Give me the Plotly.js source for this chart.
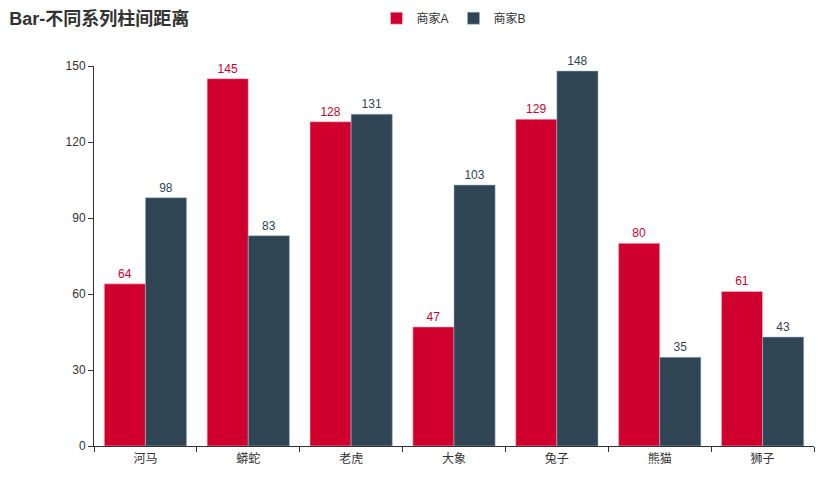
<!DOCTYPE html>
<html>
<head>
<meta charset="utf-8">
<script src="https://cdn.plot.ly/plotly-3.0.1.min.js"></script>
<style>html,body{margin:0;padding:0;background:#fff;}#chart{width:838px;height:492px;}</style>
</head>
<body>
<div id="chart"></div>
<script>
const categories = ['河马', '蟒蛇', '老虎', '大象', '兔子', '熊猫', '狮子'];
const seriesA = [64, 145, 128, 47, 129, 80, 61];
const seriesB = [98, 83, 131, 103, 148, 35, 43];
const nameA = '商家A';
const nameB = '商家B';
const colorA = '#d0002e';
const colorB = '#2f4554';
const FONT = 'Liberation Sans, Arial, Noto Sans CJK SC, sans-serif';

const traces = [
  {type: 'bar', name: nameA, x: categories, y: seriesA, text: seriesA.map(String),
   textposition: 'outside', cliponaxis: false, textfont: {color: colorA, size: 12, family: FONT},
   marker: {color: colorA, line: {color: 'rgba(255,200,210,0.9)', width: 0.6}}, hoverinfo: 'x+y'},
  {type: 'bar', name: nameB, x: categories, y: seriesB, text: seriesB.map(String),
   textposition: 'outside', cliponaxis: false, textfont: {color: colorB, size: 12, family: FONT},
   marker: {color: colorB, line: {color: 'rgba(160,180,200,0.9)', width: 0.6}}, hoverinfo: 'x+y'}
];

const layout = {
  width: 838, height: 492,
  margin: {l: 94, r: 24, t: 66, b: 46, pad: 0, autoexpand: false},
  paper_bgcolor: '#fff', plot_bgcolor: '#fff',
  font: {family: FONT, color: '#333', size: 12},
  title: {text: '<b>Bar-不同系列柱间距离</b>', x: 0.011, xanchor: 'left', y: 0.962, yanchor: 'middle',
          font: {size: 18, color: '#333', family: FONT}},
  showlegend: true,
  legend: {orientation: 'h', x: 0.5, xanchor: 'center', yref: 'container', y: 0.963, yanchor: 'middle',
           font: {size: 12, color: '#333', family: FONT}, itemwidth: 30, traceorder: 'normal'},
  barmode: 'group', bargap: 0.2, bargroupgap: 0,
  xaxis: {type: 'category', showline: true, linecolor: '#333', linewidth: 1,
          ticks: 'outside', ticklen: 5, tickcolor: '#333', tickson: 'boundaries', ticklabelstandoff: 2,
          showgrid: false, zeroline: false, tickfont: {size: 12, color: '#333'}},
  yaxis: {range: [0, 150], dtick: 30, tick0: 0, showline: true, linecolor: '#333', linewidth: 1,
          ticks: 'outside', ticklen: 5, tickcolor: '#333', showgrid: false, zeroline: false,
          tickfont: {size: 12, color: '#333'}}
};

Plotly.newPlot('chart', traces, layout, {displayModeBar: false, staticPlot: true});
</script>
</body>
</html>
